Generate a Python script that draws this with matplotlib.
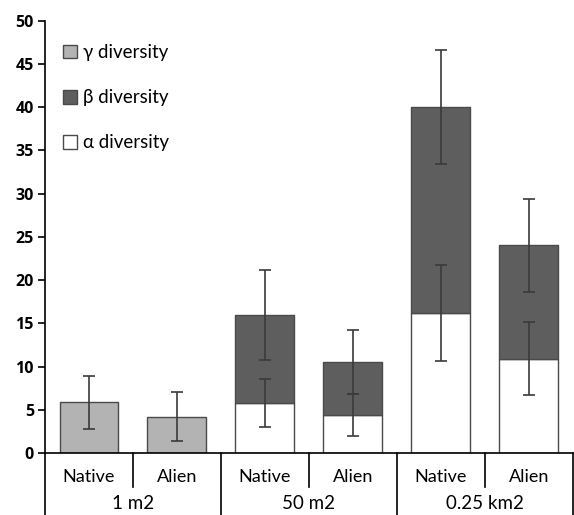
import numpy as np
import matplotlib.pyplot as plt
from matplotlib.patches import Patch

plt.rcParams['font.family'] = ['Lato', 'DejaVu Sans']

# Species richness per origin and spatial scale
groups = ['1 m2', '50 m2', '0.25 km2']
origins = ['Native', 'Alien', 'Native', 'Alien', 'Native', 'Alien']

# 1 m2 plots only have gamma (= total) diversity
gamma = [5.85, 4.2]
gamma_err = [3.1, 2.8]

# 50 m2 and 0.25 km2: alpha part and total (alpha + beta)
alpha = [5.8, 4.4, 16.2, 10.9]
alpha_err = [2.8, 2.4, 5.6, 4.2]
total = [16.0, 10.5, 40.0, 24.0]
total_err = [5.2, 3.7, 6.6, 5.4]

light = '#b3b3b3'
dark = '#5e5e5e'
edge = '#4a4a4a'
errc = '#3a3a3a'
width = 0.67

fig = plt.figure(figsize=(5.74, 5.15), dpi=100)
ax = fig.add_axes([0.0784, 0.1204, 0.9196, 0.8394])

x = np.arange(6)
xg = x[:2]
xs = x[2:]
beta = np.array(total) - np.array(alpha)

ax.bar(xg, gamma, width, color=light, edgecolor=edge, linewidth=1)
ax.bar(xs, alpha, width, color='white', edgecolor=edge, linewidth=1)
ax.bar(xs, beta, width, bottom=alpha, color=dark, edgecolor=edge, linewidth=1)

ekw = dict(fmt='none', ecolor=errc, elinewidth=1.2, capsize=4, capthick=1.2)
ax.errorbar(xg, gamma, yerr=gamma_err, **ekw)
ax.errorbar(xs, alpha, yerr=alpha_err, **ekw)
ax.errorbar(xs, total, yerr=total_err, **ekw)

ax.set_xlim(-0.5, 5.5)
ax.set_ylim(0, 50)
ax.set_yticks(np.arange(0, 51, 5))
ax.set_yticklabels([str(v) for v in range(0, 51, 5)],
                   fontfamily='Open Sans', fontweight='bold', fontsize=11.5)
ax.tick_params(axis='y', direction='out', length=5, width=1.2, pad=3)
ax.set_xticks([])
for s in ['top', 'right']:
    ax.spines[s].set_visible(False)
ax.spines['left'].set_linewidth(1.2)
ax.spines['bottom'].set_linewidth(1.2)

# category table under the axis
tr = ax.get_xaxis_transform()
for i, o in enumerate(origins):
    ax.text(x[i], -0.056, o, transform=tr, ha='center', va='center',
            fontsize=13)
for i, g in enumerate(groups):
    ax.text(2 * i + 0.5, -0.116, g, transform=tr, ha='center', va='center',
            fontsize=13.5)
for b in [0.5, 2.5, 4.5]:
    ax.plot([b, b], [0, -0.079], transform=tr, color='black', lw=1.2,
            clip_on=False)
for b in [-0.5, 1.5, 3.5, 5.5]:
    ax.plot([b, b], [0, -0.2], transform=tr, color='black', lw=1.2,
            clip_on=False)

handles = [Patch(facecolor=light, edgecolor=edge, label='γ diversity'),
           Patch(facecolor=dark, edgecolor=edge, label='β diversity'),
           Patch(facecolor='white', edgecolor=edge, label='α diversity')]
ax.legend(handles=handles, loc='upper left', bbox_to_anchor=(0.012, 0.972),
          frameon=False, fontsize=13.5, handlelength=0.75, handleheight=0.75,
          handletextpad=0.35, labelspacing=1.5, borderaxespad=0.2)

fig.savefig('out.png', dpi=100)
